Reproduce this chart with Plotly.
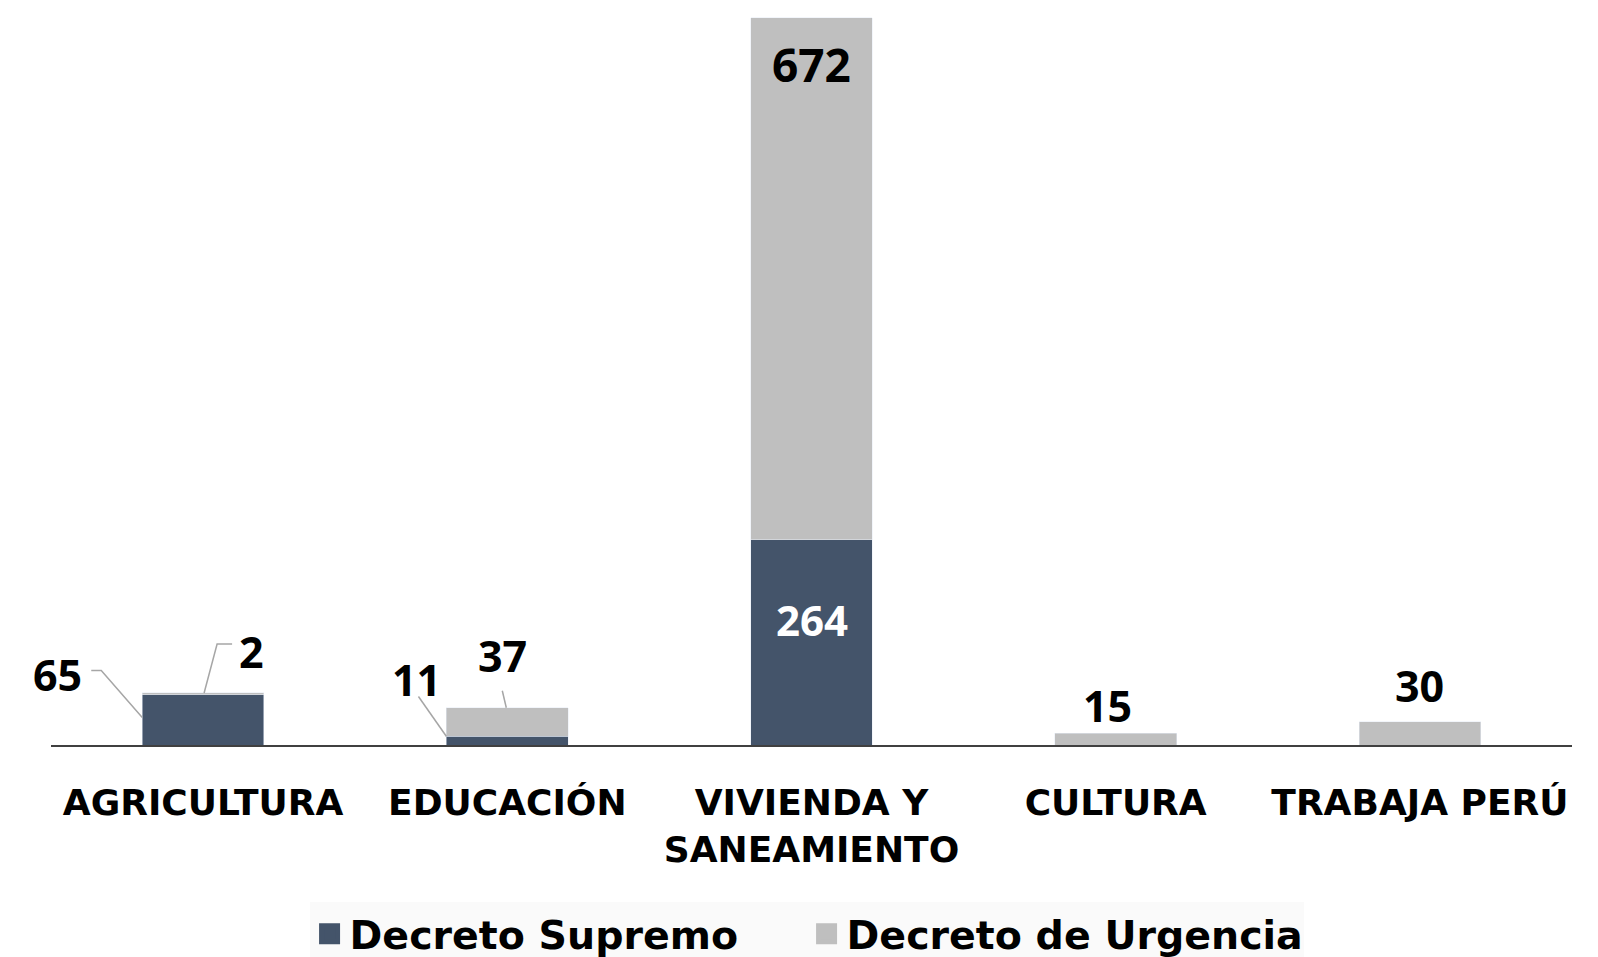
import plotly.graph_objects as go

categories = ["AGRICULTURA", "EDUCACIÓN", "VIVIENDA Y<br>SANEAMIENTO", "CULTURA", "TRABAJA PERÚ"]
decreto_supremo = [65, 11, 264, 0, 0]
decreto_urgencia = [2, 37, 672, 15, 30]
series_names = ["Decreto Supremo", "Decreto de Urgencia"]

C_DS = "#44546A"
C_DU = "#BFBFBF"
LEADER = "#A6A6A6"
BAR_W = 0.4
TICK_FONT = "DejaVu Sans"
NUM_FONT = "Open Sans"

xs = list(range(len(categories)))
totals = [a + b for a, b in zip(decreto_supremo, decreto_urgencia)]

fig = go.Figure()
fig.add_trace(go.Bar(x=xs, y=decreto_supremo, marker_color=C_DS, width=BAR_W,
                     showlegend=False, hoverinfo="skip"))
fig.add_trace(go.Bar(x=xs, y=decreto_urgencia, marker_color=C_DU, width=BAR_W,
                     showlegend=False, hoverinfo="skip"))
for name, col in zip(series_names, [C_DS, C_DU]):
    fig.add_trace(go.Scatter(x=[None], y=[None], mode="markers", name=f"<b>{name}</b>",
                             marker=dict(symbol="square", size=25, color=col,
                                         line=dict(width=5, color=col))))

# label placements: (series, index, anchor x offset, text dx, text dy, leader path, color, size)
label_specs = [
    ("ds", 0, -BAR_W / 2, -85, 20, "M -51,24 L -41,24 L 0,-23", "black", 43),
    ("du", 0, 0, 48, 41, "M 29,49 L 14,49 L 1,0", "black", 43),
    ("ds", 1, -BAR_W / 2, -30, 57, "M -28,40 L 0,0", "black", 43),
    ("du", 1, 0, -5, 52, "M -5,17 L -1,0", "black", 43),
    ("ds", 2, 0, 0, -80, None, "white", 42),
    ("du", 2, 0, 0, -46, None, "black", 46),
    ("du", 3, 0, -8, 28, None, "black", 43),
    ("du", 4, 0, 0, 36, None, "black", 43),
]

annotations = []
shapes = []
for ser, i, xo, dx, dy, path, col, size in label_specs:
    if ser == "ds":
        val = decreto_supremo[i]
        ytop = decreto_supremo[i]
    else:
        val = decreto_urgencia[i]
        ytop = totals[i]
    annotations.append(dict(x=xs[i] + xo, y=ytop, xref="x", yref="y", text=f"<b>{val}</b>",
                            showarrow=False, xshift=dx, yshift=dy,
                            font=dict(family=NUM_FONT, size=size, color=col)))
    if path:
        shapes.append(dict(type="path", xref="x", yref="y", xsizemode="pixel", ysizemode="pixel",
                           xanchor=xs[i] + xo, yanchor=ytop, path=path,
                           line=dict(color=LEADER, width=1.5)))

fig.update_layout(
    width=1598, height=957,
    barmode="stack", bargap=0.6,
    plot_bgcolor="white", paper_bgcolor="white",
    margin=dict(l=43, r=34, t=2, b=220, autoexpand=False),
    xaxis=dict(range=[-0.5, 4.5], tickvals=xs, ticktext=[f"<b>{c}</b>" for c in categories],
               tickfont=dict(family=TICK_FONT, size=36, color="black"),
               showline=True, linecolor="#404040", linewidth=1.5, ticks="",
               showgrid=False, zeroline=False, ticklabelstandoff=25),
    yaxis=dict(range=[0, 946], visible=False, showgrid=False, zeroline=False),
    legend=dict(orientation="h", x=0.17, xanchor="left", y=-0.213, yanchor="top",
                traceorder="normal",
                font=dict(family=TICK_FONT, size=39.5, color="black"),
                bgcolor="#fafafa", entrywidth=452, itemsizing="trace"),
    annotations=annotations, shapes=shapes,
)

fig.write_html("out.html")
